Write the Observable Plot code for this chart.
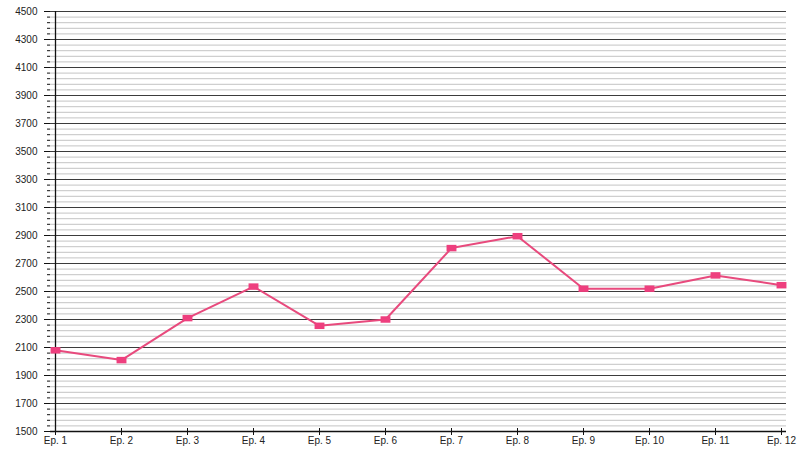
<!DOCTYPE html>
<html>
<head>
<meta charset="utf-8">
<script src="https://cdn.jsdelivr.net/npm/d3@7"></script>
<script src="https://cdn.jsdelivr.net/npm/@observablehq/plot@0.6"></script>
<style>
  html, body { margin: 0; padding: 0; background: #ffffff; }
  #chart { width: 800px; height: 450px; }
</style>
</head>
<body>
<div id="chart"></div>
<script>
const episodes = ["Ep. 1", "Ep. 2", "Ep. 3", "Ep. 4", "Ep. 5", "Ep. 6", "Ep. 7", "Ep. 8", "Ep. 9", "Ep. 10", "Ep. 11", "Ep. 12"];
const values = [2080, 2010, 2310, 2535, 2255, 2300, 2810, 2895, 2520, 2520, 2615, 2545];
const majorTicks = [1500, 1700, 1900, 2100, 2300, 2500, 2700, 2900, 3100, 3300, 3500, 3700, 3900, 4100, 4300, 4500];
const minorStep = 40;
const minorTicks = d3.range(1500, 4501, minorStep).filter(v => !majorTicks.includes(v));

const data = episodes.map((e, i) => ({episode: e, value: values[i]}));

const rectSymbol = {
  draw(context, size) {
    const s = Math.sqrt(size);
    const w = s * 1.3, h = s * 0.85;
    context.rect(-w / 2, -h / 2, w, h);
  }
};

const chart = Plot.plot({
  width: 800,
  height: 450,
  marginTop: 11,
  marginBottom: 19,
  marginLeft: 50,
  marginRight: 14,
  style: {fontFamily: "'Liberation Sans', Arial, sans-serif", fontSize: "10px", color: "#222", background: "#fff"},
  x: {type: "point", domain: episodes, padding: 0},
  y: {domain: [1500, 4500]},
  marks: [
    Plot.ruleY(minorTicks, {stroke: "#c4c4c4", strokeWidth: 1}),
    Plot.ruleY(majorTicks, {stroke: "#3c3c3c", strokeWidth: 1}),
    Plot.axisY({ticks: minorTicks, tickSize: 3, tickFormat: () => "", label: null, stroke: "#111"}),
    Plot.axisY({ticks: majorTicks, tickSize: 6, tickPadding: 7, tickFormat: d3.format("d"), label: null, stroke: "#111", fill: "#222", fontSize: 10}),
    Plot.axisX({tickSize: 4, tickPadding: 1, label: null, stroke: "#111", fill: "#222", fontSize: 10}),
    Plot.axisX({tickSize: -3, tickFormat: () => "", label: null, stroke: "#111"}),
    Plot.ruleY([1500], {stroke: "#111", strokeWidth: 1.3}),
    Plot.ruleX([episodes[0]], {stroke: "#111", strokeWidth: 1.3}),
    Plot.line(data, {x: "episode", y: "value", stroke: "#e84a7d", strokeWidth: 2}),
    Plot.dot(data, {x: "episode", y: "value", symbol: rectSymbol, r: 4.3, fill: "#ee3f7e", stroke: "none"})
  ]
});
document.getElementById("chart").appendChild(chart);
</script>
</body>
</html>
